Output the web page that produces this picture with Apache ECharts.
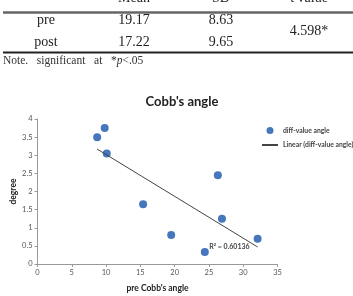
<!DOCTYPE html>
<html lang="en">
<head>
    <meta charset="UTF-8">
    <title>Cobb's angle</title>
    <style>
        html, body { margin: 0; padding: 0; background: #fff; }
    </style>
</head>
<body>
<div id="main" style="width: 353px;height:296px;"></div>
<script src="https://cdn.jsdelivr.net/npm/echarts@6/dist/echarts.min.js"></script>
<script>
    // table above the chart
    var tableHead = ['Mean', 'SD', 't value'];
    var rowNames = ['pre', 'post'];
    var rowMean = ['19.17', '17.22'];
    var rowSD = ['8.63', '9.65'];
    var tValue = '4.598*';

    // scatter: pre Cobb's angle vs diff-value angle
    var preAngle = [8.7, 9.8, 10.1, 15.4, 19.5, 24.4, 26.3, 26.9, 32.1];
    var diffAngle = [3.5, 3.75, 3.05, 1.65, 0.8, 0.33, 2.45, 1.25, 0.7];
    // linear trend line end points as drawn
    var trendX = [8.7, 32.1];
    var trendY = [3.17, 0.47];
    var rSquared = 'R\u00b2 = 0.60136';

    var xTicks = [0, 5, 10, 15, 20, 25, 30, 35];
    var yTicks = [0, 0.5, 1, 1.5, 2, 2.5, 3, 3.5, 4];

    var chart = echarts.init(document.getElementById('main'));

    var serif = '"Liberation Serif", "DejaVu Serif", serif';
    var sans = 'Lato, "Open Sans", sans-serif';

    var colX = [134, 221, 309];
    var tableEls = [];
    tableHead.forEach(function (h, i) {
        tableEls.push({ type: 'text', x: colX[i], y: -2,
            style: { text: h, font: '14px ' + serif, fill: '#222', align: 'center', verticalAlign: 'middle' } });
    });
    var rowY = [20, 42];
    rowNames.forEach(function (r, i) {
        tableEls.push({ type: 'text', x: 46, y: rowY[i],
            style: { text: r, font: '14px ' + serif, fill: '#222', align: 'center', verticalAlign: 'middle' } });
        tableEls.push({ type: 'text', x: colX[0], y: rowY[i],
            style: { text: rowMean[i], font: '14px ' + serif, fill: '#222', align: 'center', verticalAlign: 'middle' } });
        tableEls.push({ type: 'text', x: colX[1], y: rowY[i],
            style: { text: rowSD[i], font: '14px ' + serif, fill: '#222', align: 'center', verticalAlign: 'middle' } });
    });
    tableEls.push({ type: 'text', x: colX[2], y: 31,
        style: { text: tValue, font: '14px ' + serif, fill: '#222', align: 'center', verticalAlign: 'middle' } });
    tableEls.push({ type: 'line', shape: { x1: 3, y1: 12.5, x2: 353, y2: 12.5 },
        style: { stroke: '#666', lineWidth: 2.5 } });
    tableEls.push({ type: 'line', shape: { x1: 3, y1: 52.5, x2: 353, y2: 52.5 },
        style: { stroke: '#222', lineWidth: 2 } });
    tableEls.push({ type: 'text', x: 3, y: 61,
        style: {
            text: '{n|Note.   significant   at   *}{i|p}{n|<.05}',
            verticalAlign: 'middle',
            rich: {
                n: { font: '11.5px ' + serif, fill: '#333' },
                i: { font: 'italic 11.5px ' + serif, fill: '#333' }
            }
        } });

    var option = {
        animation: false,
        title: {
            text: "Cobb's angle",
            left: 177,
            top: 90,
            textAlign: 'center',
            textStyle: { fontFamily: sans, fontWeight: 'bold', fontSize: 13, color: '#222' }
        },
        legend: {
            orient: 'vertical',
            left: 256,
            top: 122,
            itemWidth: 16,
            itemHeight: 7,
            itemGap: 7.5,
            textStyle: { fontFamily: sans, fontSize: 6.8, fontWeight: 'bold', color: '#444' },
            data: [
                { name: 'diff-value angle', icon: 'circle' },
                { name: 'Linear (diff-value angle)', itemStyle: { color: 'rgba(0,0,0,0)', borderWidth: 0 } }
            ]
        },
        grid: { left: 37.5, right: 75.5, top: 119, bottom: 32, outerBoundsMode: 'none' },
        xAxis: {
            type: 'value',
            min: xTicks[0],
            max: xTicks[xTicks.length - 1],
            interval: 5,
            name: "pre Cobb's angle",
            nameLocation: 'middle',
            nameGap: 20,
            nameTextStyle: { fontFamily: sans, fontWeight: 'bold', fontSize: 8.5, color: '#222' },
            axisLine: { lineStyle: { color: '#999' } },
            axisTick: { length: 3, lineStyle: { color: '#999' } },
            axisLabel: { fontFamily: sans, fontSize: 7.5, color: '#555', margin: 5 },
            splitLine: { show: false }
        },
        yAxis: {
            type: 'value',
            min: yTicks[0],
            max: yTicks[yTicks.length - 1],
            interval: 0.5,
            name: 'degree',
            nameLocation: 'middle',
            nameGap: 20,
            nameMoveOverlap: false,
            nameTextStyle: { fontFamily: sans, fontWeight: 'bold', fontSize: 8.5, color: '#222' },
            axisLine: { show: true, lineStyle: { color: '#999' } },
            axisTick: { show: true, length: 3, lineStyle: { color: '#999' } },
            axisLabel: { fontFamily: sans, fontSize: 7.5, color: '#555', margin: 5 },
            splitLine: { show: false }
        },
        series: [
            {
                name: 'diff-value angle',
                type: 'scatter',
                symbolSize: 8,
                itemStyle: { color: '#4677bd', opacity: 1 },
                data: preAngle.map(function (x, i) { return [x, diffAngle[i]]; })
            },
            {
                name: 'Linear (diff-value angle)',
                type: 'line',
                symbol: 'none',
                lineStyle: { color: '#444', width: 1 },
                itemStyle: { color: '#444' },
                data: trendX.map(function (x, i) { return [x, trendY[i]]; }),
                markPoint: {
                    symbol: 'circle',
                    symbolSize: 0,
                    label: {
                        show: true,
                        position: 'left',
                        distance: 8,
                        formatter: rSquared,
                        fontFamily: sans,
                        fontSize: 7,
                        fontWeight: 'bold',
                        color: '#444'
                    },
                    data: [{ coord: [trendX[1], trendY[1]] }]
                }
            }
        ],
        graphic: tableEls
    };

    chart.setOption(option);
</script>
</body>
</html>
